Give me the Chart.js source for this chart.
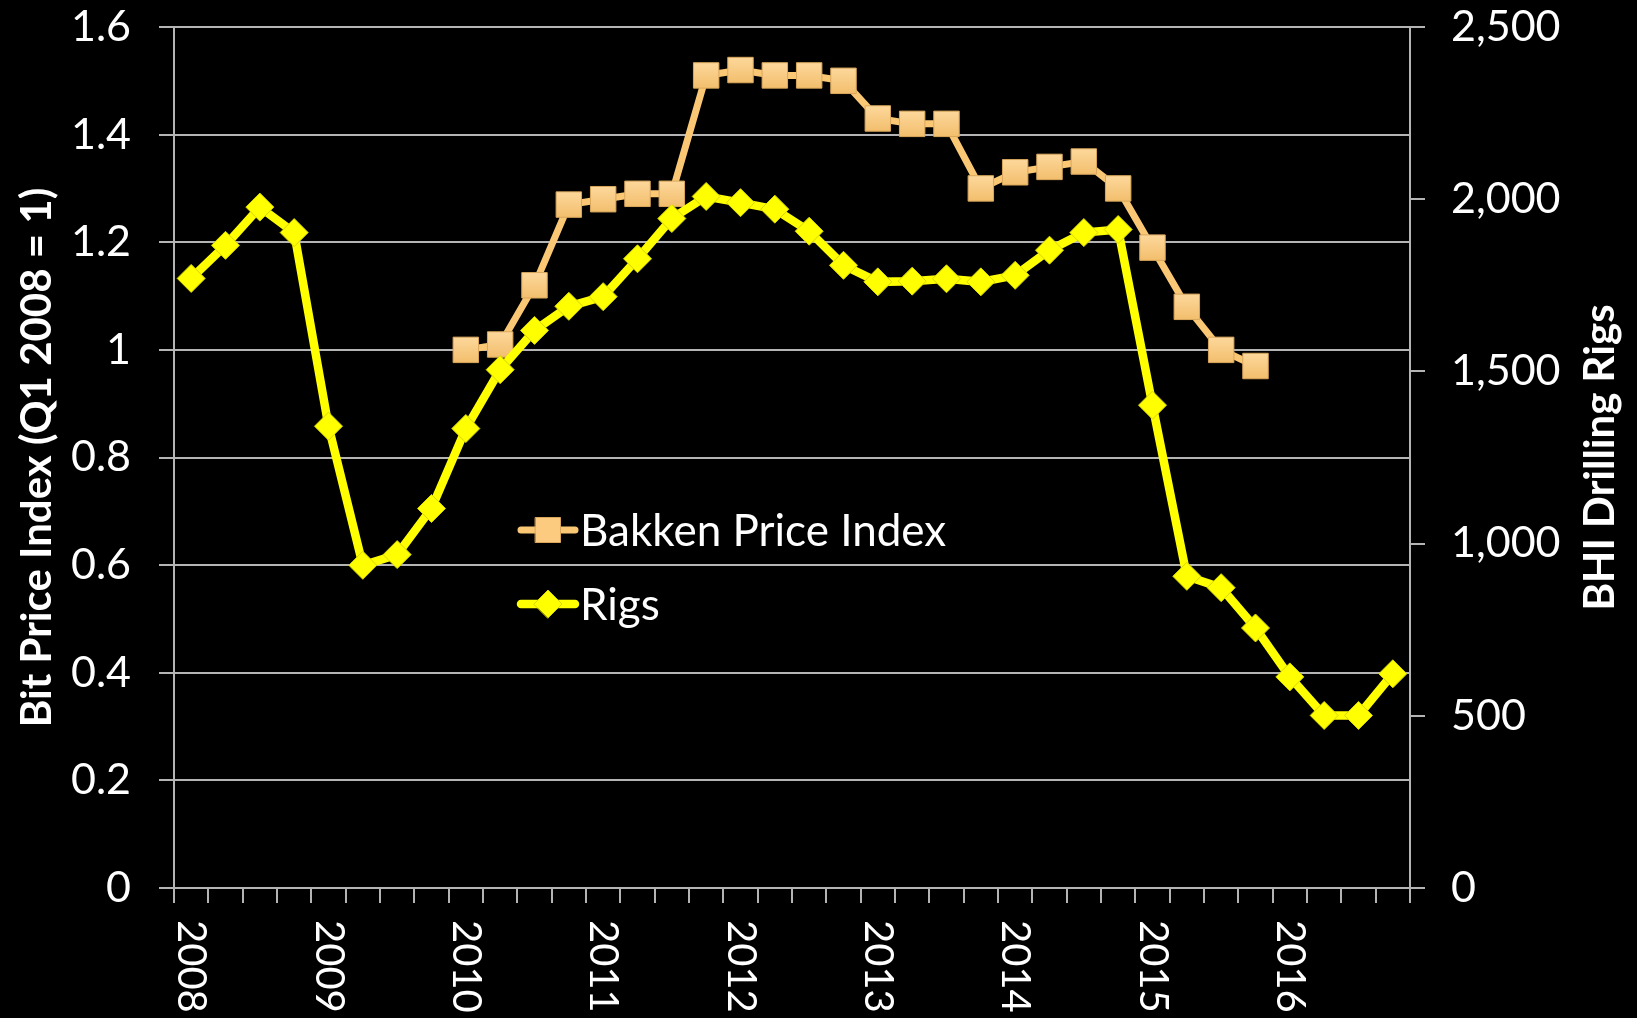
<!DOCTYPE html>
<html>
<head>
<meta charset="utf-8">
<title>Bit Price Index and Rigs</title>
<script src="https://cdn.jsdelivr.net/npm/chart.js@4.4.1/dist/chart.umd.min.js"></script>
<style>
  html, body { margin: 0; padding: 0; background: #000; }
  canvas { display: block; }
</style>
</head>
<body>
<canvas id="chart" width="1637" height="1018"></canvas>
<script>
// quarterly categories, Q1 2008 .. Q4 2016
const quarters = [
  'Q1 2008','Q2 2008','Q3 2008','Q4 2008',
  'Q1 2009','Q2 2009','Q3 2009','Q4 2009',
  'Q1 2010','Q2 2010','Q3 2010','Q4 2010',
  'Q1 2011','Q2 2011','Q3 2011','Q4 2011',
  'Q1 2012','Q2 2012','Q3 2012','Q4 2012',
  'Q1 2013','Q2 2013','Q3 2013','Q4 2013',
  'Q1 2014','Q2 2014','Q3 2014','Q4 2014',
  'Q1 2015','Q2 2015','Q3 2015','Q4 2015',
  'Q1 2016','Q2 2016','Q3 2016','Q4 2016'
];
// year labels shown under the first quarter of each year
const years = ['2008','2009','2010','2011','2012','2013','2014','2015','2016'];

const bakkenIndex = [
  null, null, null, null,
  null, null, null, null,
  1.00, 1.01, 1.12, 1.27,
  1.28, 1.29, 1.29, 1.51,
  1.52, 1.51, 1.51, 1.50,
  1.43, 1.42, 1.42, 1.30,
  1.33, 1.34, 1.35, 1.30,
  1.19, 1.08, 1.00, 0.97,
  null, null, null, null
];
const rigs = [
  1770, 1866, 1977, 1903,
  1341, 937, 968, 1102,
  1334, 1505, 1619, 1689,
  1717, 1827, 1944, 2008,
  1990, 1971, 1907, 1808,
  1760, 1762, 1769, 1760,
  1779, 1852, 1903, 1912,
  1402, 905, 872, 755,
  613, 501, 501, 622
];

const FONT = 'Lato, "Open Sans", sans-serif';
const GRID = '#b4b4b4';
const BAKKEN_LINE = '#FAC775';
const RIGS_COL = '#FFFF00';

// squares get a light-to-dark fill like the original
function squareFill(c) {
  const sc = c.chart.scales.y;
  if (!sc || c.raw == null) return '#FCCB80';
  const py = sc.getPixelForValue(c.raw);
  const g = c.chart.ctx.createLinearGradient(0, py - 13, 0, py + 13);
  g.addColorStop(0, '#FDD89C');
  g.addColorStop(1, '#F2BE6C');
  return g;
}

// fixed axis sizes so the plot sits where the original one does
function fixWidth(w) {
  return s => {
    s.width = w;
    s.paddingTop = 27;
    s.paddingBottom = 0;
  };
}

const decorations = {
  id: 'decorations',
  afterDraw(chart) {
    const ctx = chart.ctx;
    const area = chart.chartArea;
    const xs = chart.scales.x;
    ctx.save();
    ctx.fillStyle = '#fff';

    // year labels, rotated to read top to bottom
    ctx.font = '40px ' + FONT;
    ctx.textAlign = 'left';
    ctx.textBaseline = 'middle';
    years.forEach((y, k) => {
      const px = xs.getPixelForValue(k * 4);
      ctx.save();
      ctx.translate(px, area.bottom + 32);
      ctx.rotate(Math.PI / 2);
      ctx.fillText(y, 0, 0);
      ctx.restore();
    });

    // axis titles, both reading bottom to top
    ctx.font = 'bold 42px ' + FONT;
    ctx.textAlign = 'center';
    const midY = (area.top + area.bottom) / 2;
    [[37, 'Bit Price Index (Q1 2008 = 1)'], [1600, 'BHI Drilling Rigs']].forEach(([x, t]) => {
      ctx.save();
      ctx.translate(x, midY);
      ctx.rotate(-Math.PI / 2);
      ctx.fillText(t, 0, 0);
      ctx.restore();
    });

    // legend inside the plot
    const rows = [
      { ds: chart.data.datasets[0], y: 530, shape: 'rect', fill: '#FCCB80' },
      { ds: chart.data.datasets[1], y: 604, shape: 'diamond', fill: RIGS_COL }
    ];
    ctx.font = '44px ' + FONT;
    ctx.textAlign = 'left';
    ctx.textBaseline = 'middle';
    rows.forEach(r => {
      ctx.strokeStyle = r.ds.borderColor;
      ctx.lineWidth = r.ds.borderWidth;
      ctx.lineCap = 'round';
      ctx.beginPath();
      ctx.moveTo(521, r.y);
      ctx.lineTo(575, r.y);
      ctx.stroke();
      ctx.fillStyle = r.fill;
      ctx.strokeStyle = r.ds.pointBorderColor;
      ctx.lineWidth = 1;
      ctx.beginPath();
      if (r.shape === 'rect') {
        ctx.rect(548 - 12.5, r.y - 12.5, 25, 25);
      } else {
        ctx.moveTo(548 - 14, r.y);
        ctx.lineTo(548, r.y - 14);
        ctx.lineTo(548 + 14, r.y);
        ctx.lineTo(548, r.y + 14);
        ctx.closePath();
      }
      ctx.fill();
      ctx.stroke();
      ctx.fillStyle = '#fff';
      ctx.fillText(r.ds.label, 580, r.y + 2);
    });
    ctx.restore();
  }
};

new Chart(document.getElementById('chart'), {
  type: 'line',
  data: {
    labels: quarters,
    datasets: [
      {
        label: 'Bakken Price Index',
        data: bakkenIndex,
        yAxisID: 'y',
        borderColor: BAKKEN_LINE,
        borderWidth: 7,
        tension: 0,
        pointStyle: 'rect',
        pointRadius: 18,
        pointBackgroundColor: squareFill,
        pointBorderColor: '#D9A75C',
        pointBorderWidth: 1,
        order: 1
      },
      {
        label: 'Rigs',
        data: rigs,
        yAxisID: 'y1',
        borderColor: RIGS_COL,
        borderWidth: 8.5,
        tension: 0,
        pointStyle: 'rectRot',
        pointRadius: 14,
        pointBackgroundColor: RIGS_COL,
        pointBorderColor: '#D6D600',
        pointBorderWidth: 1,
        order: 0
      }
    ]
  },
  options: {
    responsive: false,
    devicePixelRatio: 1,
    animation: false,
    layout: { padding: 0 },
    plugins: {
      legend: { display: false },
      tooltip: { enabled: false }
    },
    scales: {
      x: {
        type: 'category',
        offset: true,
        grid: { offset: true, drawOnChartArea: false, drawTicks: true, tickLength: 15, color: GRID, lineWidth: 2 },
        border: { display: true, color: GRID, width: 2 },
        ticks: { display: false, autoSkip: false },
        afterFit: s => { s.height = 130; }
      },
      y: {
        position: 'left',
        min: 0,
        max: 1.6,
        ticks: {
          stepSize: 0.2,
          color: '#fff',
          font: { family: FONT, size: 43 },
          padding: 28,
          callback: v => String(Number(v.toFixed(1)))
        },
        grid: { color: GRID, lineWidth: 2, tickLength: 15 },
        border: { display: true, color: GRID, width: 2 },
        afterFit: fixWidth(174)
      },
      y1: {
        position: 'right',
        min: 0,
        max: 2500,
        ticks: {
          stepSize: 500,
          color: '#fff',
          font: { family: FONT, size: 43 },
          padding: 26,
          callback: v => v.toLocaleString('en-US')
        },
        grid: { drawOnChartArea: false, color: GRID, lineWidth: 2, tickLength: 15 },
        border: { display: true, color: GRID, width: 2 },
        afterFit: fixWidth(227)
      }
    }
  },
  plugins: [decorations]
});
</script>
</body>
</html>
